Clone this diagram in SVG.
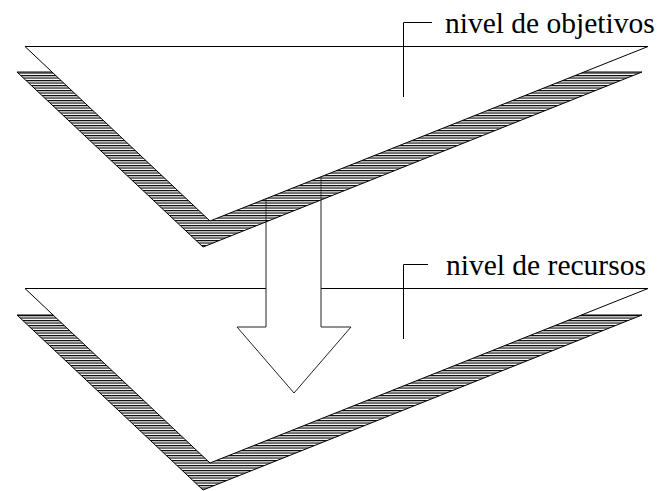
<svg xmlns="http://www.w3.org/2000/svg" width="666" height="491" viewBox="0 0 666 491">
  <defs>
    <!-- dense horizontal hatching, transparent between the lines -->
    <pattern id="hatch" patternUnits="userSpaceOnUse" width="8" height="2.5">
      <rect x="0" y="0" width="8" height="1" fill="#000"/>
      <rect x="0" y="1" width="8" height="0.6" fill="#8a8a8a"/>
    </pattern>
  </defs>
  <style>
    .plane { fill: #fff; stroke: #000; stroke-width: 1; }
    .shadow { fill: url(#hatch); stroke: #000; stroke-width: 1; }
    .leader { fill: none; stroke: #000; stroke-width: 1; }
    .arrow { fill: #fff; stroke: #222; stroke-width: 1; }
    text { font-family: "Times New Roman", "Liberation Serif", Tinos, "DejaVu Serif", serif; font-size: 29.5px; fill: #000; }
  </style>

  <rect width="666" height="491" fill="#fff"/>

  <!-- lower level: resources -->
  <g id="nivel-recursos">
    <polygon class="shadow" points="17,315 642,315 203,490"/>
    <polygon class="plane" points="25,288.5 648,288.5 210,463"/>
    <polyline class="leader" points="428,264.5 403.5,264.5 403.5,339"/>
    <text x="446" y="275">nivel de recursos</text>
  </g>

  <!-- block arrow from the objectives level down to the resources level -->
  <g id="connectors">
    <polygon class="arrow" points="266,150 321,150 321,327 351,327 294,393 237,327 266,327"/>
  </g>

  <!-- upper level: objectives -->
  <g id="nivel-objetivos">
    <polygon class="shadow" points="17,72 642,72 203,247"/>
    <polygon class="plane" points="25,46.5 648,46.5 210,221"/>
    <polyline class="leader" points="432,22.5 403.5,22.5 403.5,97"/>
    <text x="445" y="33">nivel de objetivos</text>
  </g>
</svg>
